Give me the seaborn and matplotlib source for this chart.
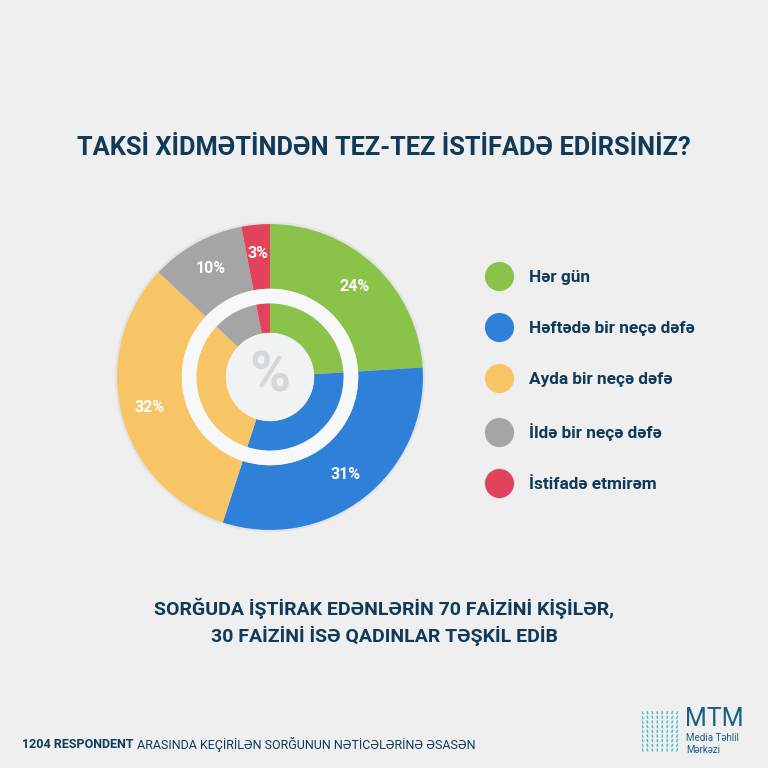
import numpy as np
import pandas as pd
import matplotlib
matplotlib.use("Agg")
import matplotlib.pyplot as plt
from matplotlib.lines import Line2D
import seaborn as sns

# ---- data ----
categories = ["Hər gün", "Həftədə bir neçə dəfə", "Ayda bir neçə dəfə",
              "İldə bir neçə dəfə", "İstifadə etmirəm"]
shares = [24, 31, 32, 10, 3]
colors_hex = ["#8bc34a", "#2f80d8", "#f7c566", "#a5a5a5", "#e2435a"]

title = "TAKSİ XİDMƏTİNDƏN TEZ-TEZ İSTİFADƏ EDİRSİNİZ?"
subtitle = "SORĞUDA İŞTİRAK EDƏNLƏRİN 70 FAİZİNİ KİŞİLƏR,\n30 FAİZİNİ İSƏ QADINLAR TƏŞKİL EDİB"
footer_bold = "1204 RESPONDENT"
footer_rest = " ARASINDA KEÇİRİLƏN SORĞUNUN NƏTİCƏLƏRİNƏ ƏSASƏN"

df = pd.DataFrame({"category": categories, "share": shares})

sns.set_theme(style="white")
plt.rcParams["font.family"] = ["Roboto", "DejaVu Sans"]
palette = sns.color_palette(colors_hex)

NAVY = "#0f3a5a"
BG = "#efeff0"

fig = plt.figure(figsize=(7.68, 7.68), dpi=100, facecolor=BG)

# pie axes: centre (270, 377) px, radius 156 px
W = 768.0
cx, cy, R = 270, 377, 156
ax = fig.add_axes([(cx - R) / W, (W - cy - R) / W, 2 * R / W, 2 * R / W])
ax.set_facecolor("none")

r_out_in = 90 / R
r_band_in = 75 / R
r_hole = 45 / R

# subtle shadow ring
ax.pie([1], radius=1.015, colors=["#e2e4e6"], startangle=90,
       wedgeprops=dict(width=0.03, linewidth=0))
# outer ring
wedges, texts, autotexts = ax.pie(
    df["share"], radius=1.0, colors=palette, startangle=90, counterclock=False,
    wedgeprops=dict(width=1 - r_out_in, linewidth=0),
    autopct=lambda p: f"{round(p)}%", pctdistance=0.81,
    textprops=dict(color="white", fontsize=11.5, fontweight="bold"))
# band between rings
ax.pie([1], radius=r_out_in, colors=["#f7f8f9"], startangle=90,
       wedgeprops=dict(width=r_out_in - r_band_in, linewidth=0))
# inner ring
ax.pie(df["share"], radius=r_band_in, colors=palette, startangle=90,
       counterclock=False, wedgeprops=dict(width=r_band_in - r_hole, linewidth=0))
# hole
ax.pie([1], radius=r_hole, colors=["#f1f2f3"], wedgeprops=dict(linewidth=0))
ax.text(0, 0, "%", ha="center", va="center", fontsize=40, fontweight="bold",
        color="#d3d8dd")
ax.set_xlim(-1.02, 1.02)
ax.set_ylim(-1.02, 1.02)
ax.set_aspect("equal")
ax.axis("off")

# legend
handles = [Line2D([], [], marker="o", linestyle="", markersize=21,
                  markerfacecolor=c, markeredgecolor="none") for c in palette]
fig.legend(handles, df["category"], loc="upper left",
           bbox_to_anchor=(470 / W, 1 - 254 / W), frameon=False,
           labelspacing=2.1, handletextpad=0.95, handlelength=1.6,
           prop=dict(size=12.4, weight="bold"), labelcolor=NAVY)

# title & subtitle
fig.text(0.5, 1 - 148 / W, title, ha="center", va="center", fontsize=18.3,
         fontweight="bold", color=NAVY)
fig.text(0.5, 1 - 622 / W, subtitle, ha="center", va="center", fontsize=14,
         fontweight="bold", color=NAVY, linespacing=1.45)

# footer
t1 = fig.text(22 / W, 1 - 745 / W, footer_bold, ha="left", va="center",
              fontsize=9, fontweight="bold", color=NAVY)
fig.canvas.draw()
bb = t1.get_window_extent()
fig.text(bb.x1 / W, 1 - 745 / W, footer_rest, ha="left", va="center",
         fontsize=9, color=NAVY)

# logo
lax = fig.add_axes([642 / W, 1 - 752 / W, 38 / W, 42 / W])
lax.set_xlim(0, 8)
lax.set_ylim(0, 9)
lax.axis("off")
for i in range(8):
    for j in range(9):
        lax.plot([i + 0.25, i + 0.25 + (i - 3.5) * 0.08], [j + 0.1, j + 0.75],
                 color="#3cc0cf", lw=1.0, solid_capstyle="butt")
fig.text(685 / W, 1 - 719 / W, "MTM", ha="left", va="center", fontsize=18,
         color="#1d5f82")
fig.text(686 / W, 1 - 738 / W, "Media Təhlil", ha="left", va="center",
         fontsize=7, color="#1d5f82")
fig.text(686 / W, 1 - 750 / W, "Mərkəzi", ha="left", va="center",
         fontsize=7, color="#1d5f82")

fig.savefig("out.png", dpi=100, facecolor=BG)
